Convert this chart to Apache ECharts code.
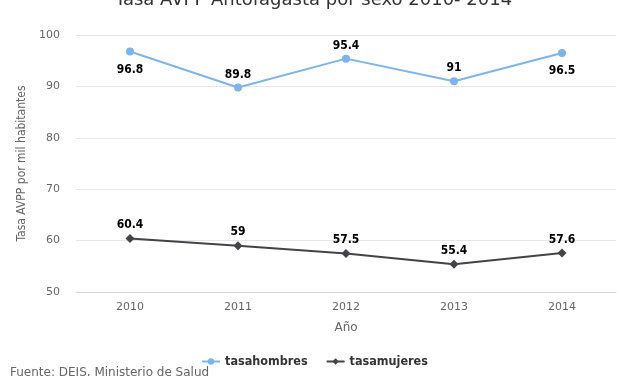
<!DOCTYPE html>
<html>
<head>
<meta charset="utf-8">
<script src="https://cdn.jsdelivr.net/npm/echarts@6/dist/echarts.min.js"></script>
<style>
  html, body { margin: 0; padding: 0; background: #fff; }
  #chart { width: 627px; height: 376px; }
</style>
</head>
<body>
<div id="chart"></div>
<script>
var years = ['2010', '2011', '2012', '2013', '2014'];
var tasaHombres = [96.8, 89.8, 95.4, 91, 96.5];
var tasaMujeres = [60.4, 59, 57.5, 55.4, 57.6];
// where the hombres labels sit (below near the top edge)
var hombresLabelPos = ['bottom', 'top', 'top', 'top', 'bottom'];
var yTicks = [50, 60, 70, 80, 90, 100];

var chart = echarts.init(document.getElementById('chart'), null, { renderer: 'canvas' });

var labelStyle = {
  show: true,
  color: '#000',
  fontWeight: 'bold',
  fontSize: 12,
  fontFamily: 'DejaVu Sans Condensed',
  distance: 3
};

var hombresData = tasaHombres.map(function (v, i) {
  return {
    value: v,
    label: { position: hombresLabelPos[i], distance: hombresLabelPos[i] == 'bottom' ? 8 : 3 }
  };
});

var option = {
  backgroundColor: '#fff',
  animation: false,
  title: {
    text: 'Tasa AVPP Antofagasta por sexo 2010- 2014',
    left: 'center',
    top: -14,
    textStyle: { color: '#333', fontSize: 18, fontWeight: 'normal', fontFamily: 'DejaVu Sans' }
  },
  graphic: [{
    type: 'text',
    left: 10,
    top: 367,
    style: { text: 'Fuente: DEIS, Ministerio de Salud', fill: '#666', font: '12px DejaVu Sans' }
  }],
  legend: {
    bottom: 3,
    left: 196,
    itemWidth: 18,
    itemHeight: 8,
    itemGap: 18,
    textStyle: { color: '#333', fontWeight: 'bold', fontSize: 12.5, fontFamily: 'DejaVu Sans Condensed' },
    data: ['tasahombres', 'tasamujeres']
  },
  grid: { left: 76, right: 11, top: 35, bottom: 84 },
  xAxis: {
    type: 'category',
    data: years,
    boundaryGap: true,
    name: 'Año',
    nameLocation: 'middle',
    nameGap: 30,
    nameTextStyle: { color: '#666', fontSize: 12, fontFamily: 'DejaVu Sans' },
    axisLine: { lineStyle: { color: '#ccd6eb' } },
    axisTick: { show: false },
    axisLabel: { color: '#666', fontSize: 11, margin: 10, fontFamily: 'DejaVu Sans' }
  },
  yAxis: {
    type: 'value',
    min: yTicks[0],
    max: yTicks[yTicks.length - 1],
    interval: 10,
    name: 'Tasa AVPP por mil habitantes',
    nameLocation: 'middle',
    nameGap: 48,
    nameTextStyle: { color: '#666', fontSize: 12, fontFamily: 'DejaVu Sans Condensed' },
    axisLine: { show: false },
    axisTick: { show: false },
    axisLabel: { color: '#666', fontSize: 11, margin: 16, fontFamily: 'DejaVu Sans' },
    splitLine: { lineStyle: { color: '#e6e6e6' } }
  },
  series: [
    {
      name: 'tasahombres',
      type: 'line',
      data: hombresData,
      color: '#7cb5ec',
      symbol: 'circle',
      symbolSize: 8,
      lineStyle: { width: 2 },
      label: labelStyle
    },
    {
      name: 'tasamujeres',
      type: 'line',
      data: tasaMujeres,
      color: '#434348',
      symbol: 'diamond',
      symbolSize: 9,
      lineStyle: { width: 2 },
      label: Object.assign({}, labelStyle, { position: 'top' })
    }
  ]
};

chart.setOption(option);
</script>
</body>
</html>
